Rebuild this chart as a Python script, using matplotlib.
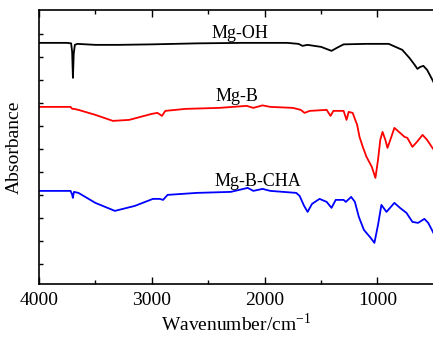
import numpy as np
import matplotlib
matplotlib.use("Agg")
import matplotlib.pyplot as plt
from matplotlib.ticker import MultipleLocator, FixedLocator

# Wavenumber (cm^-1) and absorbance (a.u., offset) for each sample
w_oh = [4000, 3750, 3715, 3706, 3699, 3692, 3682, 3660, 3500, 3300, 3000, 2600, 2200, 1800,
        1700, 1664, 1620, 1500, 1407, 1360, 1300, 1100, 900, 840, 780, 717, 670, 646, 620,
        593, 560, 513, 500]
a_oh = [24.1, 24.1, 24.05, 23.2, 20.6, 23.0, 23.9, 24.0, 23.9, 23.9, 23.95, 24.05, 24.1, 24.1,
        24.0, 23.8, 23.9, 23.7, 23.3, 23.6, 23.95, 24.0, 24.0, 23.7, 23.4, 22.6, 21.9, 21.5, 21.7,
        21.8, 21.4, 20.4, 20.1]

w_b = [4000, 3720, 3705, 3690, 3650, 3500, 3345, 3200, 3000, 2950, 2910, 2880, 2700, 2400,
       2160, 2100, 2018, 1950, 1750, 1680, 1646, 1600, 1450, 1416, 1390, 1300, 1274, 1255, 1220,
       1180, 1159, 1130, 1097, 1050, 1018, 995, 975, 955, 930, 911, 880, 850, 800, 760, 735,
       690, 650, 600, 560, 513, 500]
a_b = [17.7, 17.7, 17.5, 17.5, 17.4, 16.9, 16.3, 16.4, 17.0, 17.1, 16.8, 17.3, 17.5, 17.6,
       17.8, 17.6, 17.85, 17.7, 17.6, 17.4, 17.1, 17.3, 17.4, 16.8, 17.3, 17.3, 16.4, 17.2, 17.1,
       15.9, 14.7, 13.7, 12.7, 11.7, 10.6, 12.4, 14.4, 15.2, 14.4, 13.6, 14.6, 15.6, 15.1, 14.7, 14.6,
       13.7, 14.2, 14.9, 14.4, 13.6, 13.4]

w_cha = [4000, 3720, 3705, 3700, 3690, 3650, 3500, 3327, 3150, 2990, 2930, 2900, 2860, 2600,
         2300, 2150, 2100, 2018, 1950, 1720, 1690, 1650, 1619, 1580, 1513, 1450, 1407, 1370,
         1300, 1280, 1233, 1200, 1165, 1120, 1060, 1027, 995, 965, 920, 850, 800, 743, 690,
         640, 584, 550, 513, 500]
a_cha = [9.3, 9.3, 8.9, 8.6, 9.2, 9.1, 8.1, 7.3, 7.8, 8.5, 8.5, 8.4, 8.9, 9.1,
         9.2, 9.6, 9.3, 9.5, 9.3, 9.1, 8.8, 7.8, 7.2, 8.0, 8.5, 8.2, 7.6, 8.4,
         8.4, 8.2, 8.7, 8.2, 6.7, 5.4, 4.6, 4.1, 5.9, 7.9, 7.2, 8.1, 7.6, 7.1, 6.2,
         6.1, 6.5, 6.1, 5.3, 5.0]

labels = ["Mg-OH", "Mg-B", "Mg-B-CHA"]
colors = ["black", "red", "blue"]
label_pos = [(2221, 25.0), (2248, 18.7), (2062, 10.2)]

plt.rcParams['font.family'] = ['Liberation Serif', 'DejaVu Serif']
plt.rcParams['mathtext.fontset'] = 'custom'
plt.rcParams['mathtext.rm'] = 'Liberation Serif'

fig = plt.figure(figsize=(4.33, 3.4), dpi=100)
ax = fig.add_axes([0.090, 0.165, 0.912, 0.806])

for w, a, c in zip([w_oh, w_b, w_cha], [a_oh, a_b, a_cha], colors):
    ax.plot(w, a, color=c, lw=1.3, solid_joinstyle='round')

for lab, (x, y) in zip(labels, label_pos):
    ax.text(x, y, lab, ha='center', va='center', fontsize=13)

ax.set_xlim(4000, 500)
ax.set_ylim(0, 27.4)
ax.xaxis.set_major_locator(MultipleLocator(1000))
ax.xaxis.set_minor_locator(MultipleLocator(500))
ax.yaxis.set_major_locator(FixedLocator(np.arange(2.0, 27, 2.3)))
ax.set_yticklabels([])
ax.tick_params(axis='x', which='major', direction='in', length=5, width=1, top=True, labelsize=14, pad=6)
ax.tick_params(axis='x', which='minor', direction='in', length=3, width=1, top=True)
ax.tick_params(axis='y', which='major', direction='in', length=3, width=1)
for s in ax.spines.values():
    s.set_linewidth(1.2)

ax.set_xlabel("Wavenumber/cm$^{\\mathregular{-1}}$", fontsize=14, labelpad=2)
ax.set_ylabel("Absorbance", fontsize=14, labelpad=8)

fig.savefig("out.png", dpi=100)
